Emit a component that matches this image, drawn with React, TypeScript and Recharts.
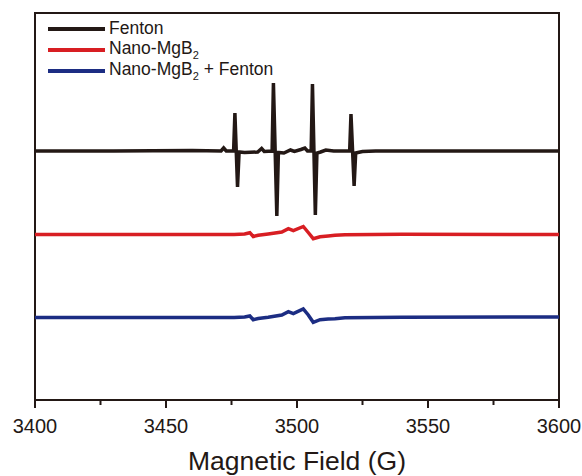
import { LineChart, Line, XAxis, YAxis, ReferenceArea } from "recharts"

// field (G) and signal (arbitrary units, traces stacked)
const fentonField = [
  3400, 3430, 3460, 3471, 3472, 3473, 3475.8, 3476.3, 3477.3, 3477.9, 3480, 3485, 3486.5, 3487.5,
  3490.5, 3491.0, 3492.3, 3492.9, 3495, 3497.5, 3499, 3501.5, 3503, 3504, 3505.4, 3505.9, 3507.0,
  3507.6, 3509, 3511, 3514, 3520.1, 3520.6, 3521.8, 3522.4, 3525, 3530, 3560, 3600,
]
const fentonSignal = [
  249, 249, 249.5, 249, 252, 249, 249, 287, 213, 248, 247.5, 248, 251.5, 248.5,
  249, 317, 184, 247.5, 247, 250, 248.5, 250.5, 252, 249, 249, 316, 185,
  247, 248, 250, 249, 249, 286, 214, 247, 248.5, 249, 249, 249,
]

const mgb2Field = [
  3400, 3440, 3476, 3480, 3482, 3483.3, 3485.2, 3489, 3494.2, 3496.7, 3498.6, 3502.4, 3504.3,
  3506.2, 3508.8, 3511.9, 3514.5, 3518.3, 3540, 3600,
]
const mgb2Signal = [
  165.5, 165.5, 165.5, 166, 167.3, 163.5, 164.7, 166, 168, 171.3, 169.3, 173.5, 167.5,
  161.3, 163.3, 164, 164.7, 165.3, 165.7, 165.5,
]

const mixField = [
  3400, 3440, 3476, 3480, 3482, 3483.3, 3485.2, 3489, 3494.2, 3496.7, 3498.6, 3502.4, 3504.3,
  3506.2, 3508.8, 3511.9, 3514.5, 3518.3, 3540, 3600,
]
const mixSignal = [
  82.5, 82.5, 82.5, 83, 84, 80.3, 81.5, 82.7, 85, 88.3, 86.3, 91, 85,
  77.7, 80.3, 81, 81.3, 82.3, 82.7, 83,
]

const xTicks = [3400, 3425, 3450, 3475, 3500, 3525, 3550, 3575, 3600]
const labelledTicks = [3400, 3450, 3500, 3550, 3600]

const FONT = "'Liberation Sans', Arial, sans-serif"
const INK = "#231815"

const series = [
  { name: "Fenton", sub: null as string | null, tail: "", color: INK, data: fentonField.map((x, i) => ({ x, y: fentonSignal[i] })) },
  { name: "Nano-MgB", sub: "2", tail: "", color: "#d81e23", data: mgb2Field.map((x, i) => ({ x, y: mgb2Signal[i] })) },
  { name: "Nano-MgB", sub: "2", tail: " + Fenton", color: "#1c2d83", data: mixField.map((x, i) => ({ x, y: mixSignal[i] })) },
]

const FieldTick = ({ x, y, payload }: any) => {
  const major = labelledTicks.includes(payload.value)
  return (
    <g>
      <line x1={x} x2={x} y1={y} y2={y + (major ? 8 : 5)} stroke={INK} strokeWidth={2} />
      {major && (
        <text x={x} y={y + 33} textAnchor="middle" fill={INK} fontSize={20} fontFamily={FONT}>
          {payload.value}
        </text>
      )}
    </g>
  )
}

export default function App() {
  return (
    <div style={{ position: "absolute", left: 0, top: 0, width: 582, height: 476, background: "#fff" }}>
      <LineChart width={582} height={476} margin={{ top: 13, right: 23, left: 35, bottom: 0 }}>
        <XAxis dataKey="x" type="number" domain={[3400, 3600]} ticks={xTicks} interval={0}
          allowDuplicatedCategory={false} height={76} tickSize={0} tickMargin={0} tickLine={false}
          axisLine={{ stroke: INK, strokeWidth: 2 }} tick={<FieldTick />}
          label={{ value: "Magnetic Field (G)", position: "insideBottom", offset: 6, fill: INK, fontSize: 26.5, fontFamily: FONT }} />
        <YAxis type="number" domain={[0, 387]} hide />
        {/* plot frame */}
        <ReferenceArea x1={3400} x2={3600} y1={0} y2={387} fill="none" stroke={INK} strokeWidth={2}
          ifOverflow="visible" />
        {series.map(s => (
          <Line key={s.name + s.tail} data={s.data} dataKey="y" type="linear" stroke={s.color}
            strokeWidth={3.5} dot={false} isAnimationActive={false} />
        ))}
      </LineChart>

      {/* legend */}
      <div style={{ position: "absolute", left: 48, top: 18, fontFamily: FONT, fontSize: 17.5, color: INK }}>
        {series.map(s => (
          <div key={s.name + s.tail} style={{ display: "flex", alignItems: "center", height: 21, whiteSpace: "nowrap" }}>
            <span style={{ display: "inline-block", width: 57, height: 4, background: s.color, marginRight: 4 }} />
            <span>
              {s.name}
              {s.sub && <sub style={{ fontSize: 11, verticalAlign: -5 }}>{s.sub}</sub>}
              {s.tail}
            </span>
          </div>
        ))}
      </div>
    </div>
  )
}
